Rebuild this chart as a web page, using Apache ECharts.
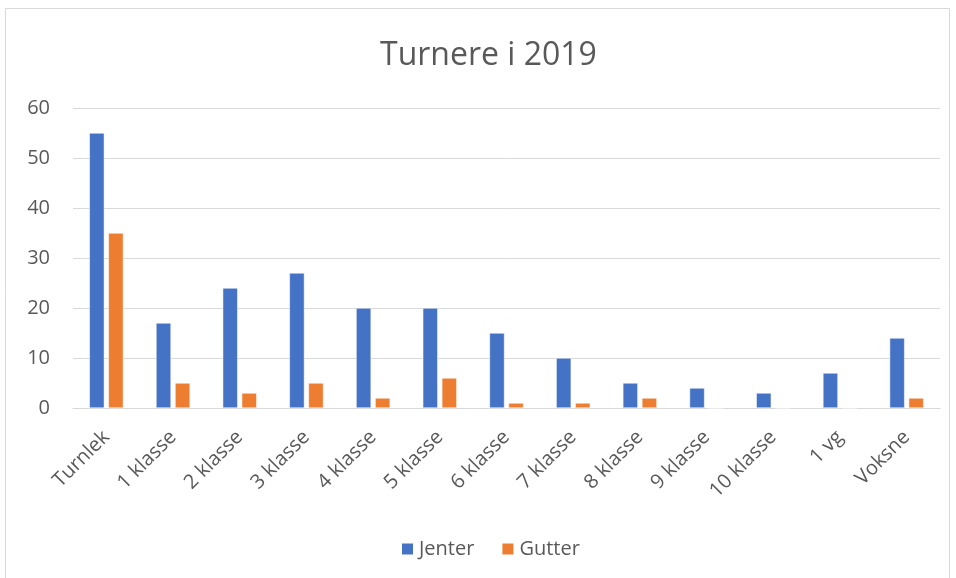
<!DOCTYPE html>
<html><head><meta charset="utf-8">
<script src="https://cdn.jsdelivr.net/npm/echarts@6/dist/echarts.min.js"></script>
<style>html,body{margin:0;padding:0;background:#fff}#c{width:956px;height:578px}</style>
</head><body><div id="c"></div>
<script>
const categories = ['Turnlek','1 klasse','2 klasse','3 klasse','4 klasse','5 klasse','6 klasse','7 klasse','8 klasse','9 klasse','10 klasse','1 vg','Voksne'];
const jenter = [55,17,24,27,20,20,15,10,5,4,3,7,14];
const gutter = [35,5,3,5,2,6,1,1,2,0,0,0,2];
const yTicks = {min:0, max:60, interval:10};

const chart = echarts.init(document.getElementById('c'), null, {renderer:'canvas'});
const font = '"Open Sans", "Noto Sans", sans-serif';
chart.setOption({
  animation:false,
  backgroundColor:'#fff',
  graphic:[{type:'rect', shape:{x:5.5,y:8.5,width:944,height:620}, style:{fill:'none', stroke:'#d9d9d9', lineWidth:1}, silent:true}],
  title:{text:'Turnere i 2019', left:375, top:35, textStyle:{fontFamily:font, fontSize:32, fontWeight:'normal', color:'#595959'}},
  legend:{top:534, left:395, itemWidth:13, itemHeight:13, itemGap:26, icon:'rect',
    textStyle:{fontFamily:font, fontSize:20, color:'#595959'}, data:['Jenter','Gutter']},
  grid:{left:73, right:16, top:108, bottom:170, containLabel:false},
  xAxis:{type:'category', data:categories,
    axisLine:{lineStyle:{color:'#d9d9d9', width:1}}, axisTick:{show:false},
    axisLabel:{rotate:45, interval:0, fontFamily:font, fontSize:20, color:'#595959', margin:26}},
  yAxis:{type:'value', min:yTicks.min, max:yTicks.max, interval:yTicks.interval,
    axisLine:{show:false}, axisTick:{show:false},
    splitLine:{lineStyle:{color:'#d9d9d9', width:1}},
    axisLabel:{fontFamily:font, fontSize:20, color:'#595959', margin:23}},
  series:[
    {name:'Jenter', type:'bar', data:jenter, barWidth:15, barGap:'27%', itemStyle:{color:'#4472c4', borderColor:'#fff', borderWidth:0.5}},
    {name:'Gutter', type:'bar', data:gutter, barWidth:15, itemStyle:{color:'#ed7d31', borderColor:'#fff', borderWidth:0.5}}
  ]
});
</script></body></html>
